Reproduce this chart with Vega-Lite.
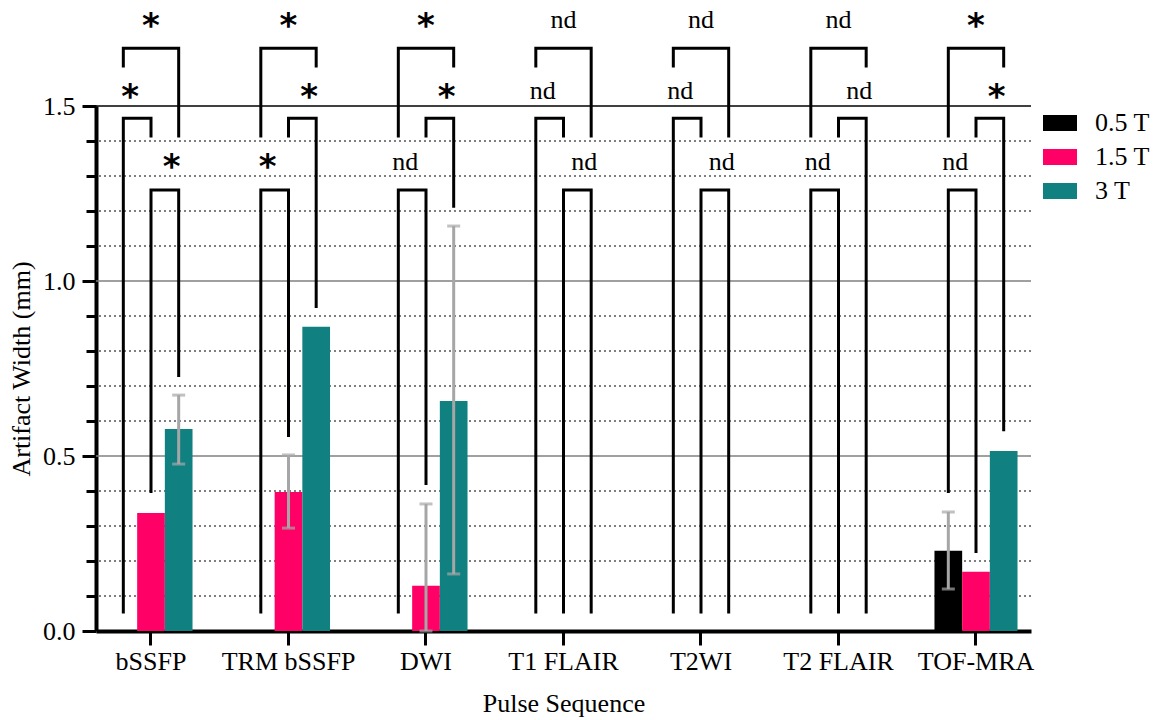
{
  "$schema": "https://vega.github.io/schema/vega-lite/v6.json",
  "autosize": {"type": "none"},
  "padding": {"left": 96, "top": 106, "right": 126, "bottom": 89},
  "width": 935,
  "height": 525,
  "config": {
    "view": {"stroke": null},
    "font": "Liberation Serif",
    "axis": {"grid": false}
  },
  "datasets": {
    "bars": [
      {"seq": "bSSFP", "group": "1.5 T", "value": 0.337},
      {"seq": "bSSFP", "group": "3 T", "value": 0.577},
      {"seq": "TRM bSSFP", "group": "1.5 T", "value": 0.397},
      {"seq": "TRM bSSFP", "group": "3 T", "value": 0.869},
      {"seq": "DWI", "group": "1.5 T", "value": 0.129},
      {"seq": "DWI", "group": "3 T", "value": 0.657},
      {"seq": "TOF-MRA", "group": "0.5 T", "value": 0.229},
      {"seq": "TOF-MRA", "group": "1.5 T", "value": 0.169},
      {"seq": "TOF-MRA", "group": "3 T", "value": 0.514}
    ],
    "errors": [
      {"seq": "bSSFP", "group": "3 T", "lo": 0.477, "hi": 0.674},
      {"seq": "TRM bSSFP", "group": "1.5 T", "lo": 0.294, "hi": 0.503},
      {"seq": "DWI", "group": "1.5 T", "lo": 0.0, "hi": 0.363},
      {"seq": "DWI", "group": "3 T", "lo": 0.163, "hi": 1.157},
      {"seq": "TOF-MRA", "group": "0.5 T", "lo": 0.12, "hi": 0.34}
    ],
    "grid": [
      {"v": 0.0, "major": true}, {"v": 0.1, "major": false}, {"v": 0.2, "major": false}, {"v": 0.3, "major": false},
      {"v": 0.4, "major": false}, {"v": 0.5, "major": true}, {"v": 0.6, "major": false}, {"v": 0.7, "major": false},
      {"v": 0.8, "major": false}, {"v": 0.9, "major": false}, {"v": 1.0, "major": true}, {"v": 1.1, "major": false},
      {"v": 1.2, "major": false}, {"v": 1.3, "major": false}, {"v": 1.4, "major": false}, {"v": 1.5, "major": true}
    ],
    "brackets": [
      {"id": "bSSFP A", "seq": "bSSFP", "group": "0.5 T", "y": 0.05, "k": 1},
      {"id": "bSSFP A", "seq": "bSSFP", "group": "0.5 T", "y": 1.465, "k": 2},
      {"id": "bSSFP A", "seq": "bSSFP", "group": "1.5 T", "y": 1.465, "k": 3},
      {"id": "bSSFP A", "seq": "bSSFP", "group": "1.5 T", "y": 1.41, "k": 4},
      {"id": "bSSFP B", "seq": "bSSFP", "group": "1.5 T", "y": 0.394, "k": 1},
      {"id": "bSSFP B", "seq": "bSSFP", "group": "1.5 T", "y": 1.26, "k": 2},
      {"id": "bSSFP B", "seq": "bSSFP", "group": "3 T", "y": 1.26, "k": 3},
      {"id": "bSSFP B", "seq": "bSSFP", "group": "3 T", "y": 0.726, "k": 4},
      {"id": "bSSFP C", "seq": "bSSFP", "group": "0.5 T", "y": 1.61, "k": 1},
      {"id": "bSSFP C", "seq": "bSSFP", "group": "0.5 T", "y": 1.665, "k": 2},
      {"id": "bSSFP C", "seq": "bSSFP", "group": "3 T", "y": 1.665, "k": 3},
      {"id": "bSSFP C", "seq": "bSSFP", "group": "3 T", "y": 1.41, "k": 4},
      {"id": "TRM A", "seq": "TRM bSSFP", "group": "0.5 T", "y": 0.05, "k": 1},
      {"id": "TRM A", "seq": "TRM bSSFP", "group": "0.5 T", "y": 1.26, "k": 2},
      {"id": "TRM A", "seq": "TRM bSSFP", "group": "1.5 T", "y": 1.26, "k": 3},
      {"id": "TRM A", "seq": "TRM bSSFP", "group": "1.5 T", "y": 0.554, "k": 4},
      {"id": "TRM B", "seq": "TRM bSSFP", "group": "1.5 T", "y": 1.41, "k": 1},
      {"id": "TRM B", "seq": "TRM bSSFP", "group": "1.5 T", "y": 1.465, "k": 2},
      {"id": "TRM B", "seq": "TRM bSSFP", "group": "3 T", "y": 1.465, "k": 3},
      {"id": "TRM B", "seq": "TRM bSSFP", "group": "3 T", "y": 0.923, "k": 4},
      {"id": "TRM C", "seq": "TRM bSSFP", "group": "0.5 T", "y": 1.41, "k": 1},
      {"id": "TRM C", "seq": "TRM bSSFP", "group": "0.5 T", "y": 1.665, "k": 2},
      {"id": "TRM C", "seq": "TRM bSSFP", "group": "3 T", "y": 1.665, "k": 3},
      {"id": "TRM C", "seq": "TRM bSSFP", "group": "3 T", "y": 1.61, "k": 4},
      {"id": "DWI A", "seq": "DWI", "group": "0.5 T", "y": 0.05, "k": 1},
      {"id": "DWI A", "seq": "DWI", "group": "0.5 T", "y": 1.26, "k": 2},
      {"id": "DWI A", "seq": "DWI", "group": "1.5 T", "y": 1.26, "k": 3},
      {"id": "DWI A", "seq": "DWI", "group": "1.5 T", "y": 0.417, "k": 4},
      {"id": "DWI B", "seq": "DWI", "group": "1.5 T", "y": 1.41, "k": 1},
      {"id": "DWI B", "seq": "DWI", "group": "1.5 T", "y": 1.465, "k": 2},
      {"id": "DWI B", "seq": "DWI", "group": "3 T", "y": 1.465, "k": 3},
      {"id": "DWI B", "seq": "DWI", "group": "3 T", "y": 1.209, "k": 4},
      {"id": "DWI C", "seq": "DWI", "group": "0.5 T", "y": 1.41, "k": 1},
      {"id": "DWI C", "seq": "DWI", "group": "0.5 T", "y": 1.665, "k": 2},
      {"id": "DWI C", "seq": "DWI", "group": "3 T", "y": 1.665, "k": 3},
      {"id": "DWI C", "seq": "DWI", "group": "3 T", "y": 1.61, "k": 4},
      {"id": "T1 A", "seq": "T1 FLAIR", "group": "0.5 T", "y": 0.05, "k": 1},
      {"id": "T1 A", "seq": "T1 FLAIR", "group": "0.5 T", "y": 1.465, "k": 2},
      {"id": "T1 A", "seq": "T1 FLAIR", "group": "1.5 T", "y": 1.465, "k": 3},
      {"id": "T1 A", "seq": "T1 FLAIR", "group": "1.5 T", "y": 1.41, "k": 4},
      {"id": "T1 B", "seq": "T1 FLAIR", "group": "1.5 T", "y": 0.05, "k": 1},
      {"id": "T1 B", "seq": "T1 FLAIR", "group": "1.5 T", "y": 1.26, "k": 2},
      {"id": "T1 B", "seq": "T1 FLAIR", "group": "3 T", "y": 1.26, "k": 3},
      {"id": "T1 B", "seq": "T1 FLAIR", "group": "3 T", "y": 0.05, "k": 4},
      {"id": "T1 C", "seq": "T1 FLAIR", "group": "0.5 T", "y": 1.61, "k": 1},
      {"id": "T1 C", "seq": "T1 FLAIR", "group": "0.5 T", "y": 1.665, "k": 2},
      {"id": "T1 C", "seq": "T1 FLAIR", "group": "3 T", "y": 1.665, "k": 3},
      {"id": "T1 C", "seq": "T1 FLAIR", "group": "3 T", "y": 1.41, "k": 4},
      {"id": "T2 A", "seq": "T2WI", "group": "0.5 T", "y": 0.05, "k": 1},
      {"id": "T2 A", "seq": "T2WI", "group": "0.5 T", "y": 1.465, "k": 2},
      {"id": "T2 A", "seq": "T2WI", "group": "1.5 T", "y": 1.465, "k": 3},
      {"id": "T2 A", "seq": "T2WI", "group": "1.5 T", "y": 1.41, "k": 4},
      {"id": "T2 B", "seq": "T2WI", "group": "1.5 T", "y": 0.05, "k": 1},
      {"id": "T2 B", "seq": "T2WI", "group": "1.5 T", "y": 1.26, "k": 2},
      {"id": "T2 B", "seq": "T2WI", "group": "3 T", "y": 1.26, "k": 3},
      {"id": "T2 B", "seq": "T2WI", "group": "3 T", "y": 0.05, "k": 4},
      {"id": "T2 C", "seq": "T2WI", "group": "0.5 T", "y": 1.61, "k": 1},
      {"id": "T2 C", "seq": "T2WI", "group": "0.5 T", "y": 1.665, "k": 2},
      {"id": "T2 C", "seq": "T2WI", "group": "3 T", "y": 1.665, "k": 3},
      {"id": "T2 C", "seq": "T2WI", "group": "3 T", "y": 1.41, "k": 4},
      {"id": "T2F A", "seq": "T2 FLAIR", "group": "0.5 T", "y": 0.05, "k": 1},
      {"id": "T2F A", "seq": "T2 FLAIR", "group": "0.5 T", "y": 1.26, "k": 2},
      {"id": "T2F A", "seq": "T2 FLAIR", "group": "1.5 T", "y": 1.26, "k": 3},
      {"id": "T2F A", "seq": "T2 FLAIR", "group": "1.5 T", "y": 0.05, "k": 4},
      {"id": "T2F B", "seq": "T2 FLAIR", "group": "1.5 T", "y": 1.41, "k": 1},
      {"id": "T2F B", "seq": "T2 FLAIR", "group": "1.5 T", "y": 1.465, "k": 2},
      {"id": "T2F B", "seq": "T2 FLAIR", "group": "3 T", "y": 1.465, "k": 3},
      {"id": "T2F B", "seq": "T2 FLAIR", "group": "3 T", "y": 0.05, "k": 4},
      {"id": "T2F C", "seq": "T2 FLAIR", "group": "0.5 T", "y": 1.41, "k": 1},
      {"id": "T2F C", "seq": "T2 FLAIR", "group": "0.5 T", "y": 1.665, "k": 2},
      {"id": "T2F C", "seq": "T2 FLAIR", "group": "3 T", "y": 1.665, "k": 3},
      {"id": "T2F C", "seq": "T2 FLAIR", "group": "3 T", "y": 1.61, "k": 4},
      {"id": "TOF A", "seq": "TOF-MRA", "group": "0.5 T", "y": 0.394, "k": 1},
      {"id": "TOF A", "seq": "TOF-MRA", "group": "0.5 T", "y": 1.26, "k": 2},
      {"id": "TOF A", "seq": "TOF-MRA", "group": "1.5 T", "y": 1.26, "k": 3},
      {"id": "TOF A", "seq": "TOF-MRA", "group": "1.5 T", "y": 0.223, "k": 4},
      {"id": "TOF B", "seq": "TOF-MRA", "group": "1.5 T", "y": 1.41, "k": 1},
      {"id": "TOF B", "seq": "TOF-MRA", "group": "1.5 T", "y": 1.465, "k": 2},
      {"id": "TOF B", "seq": "TOF-MRA", "group": "3 T", "y": 1.465, "k": 3},
      {"id": "TOF B", "seq": "TOF-MRA", "group": "3 T", "y": 0.571, "k": 4},
      {"id": "TOF C", "seq": "TOF-MRA", "group": "0.5 T", "y": 1.41, "k": 1},
      {"id": "TOF C", "seq": "TOF-MRA", "group": "0.5 T", "y": 1.665, "k": 2},
      {"id": "TOF C", "seq": "TOF-MRA", "group": "3 T", "y": 1.665, "k": 3},
      {"id": "TOF C", "seq": "TOF-MRA", "group": "3 T", "y": 1.61, "k": 4}
    ],
    "labels": [
      {"seq": "bSSFP", "pair": "A", "y": 1.54, "text": "*"},
      {"seq": "bSSFP", "pair": "B", "y": 1.34, "text": "*"},
      {"seq": "bSSFP", "pair": "C", "y": 1.743, "text": "*"},
      {"seq": "TRM bSSFP", "pair": "A", "y": 1.34, "text": "*"},
      {"seq": "TRM bSSFP", "pair": "B", "y": 1.54, "text": "*"},
      {"seq": "TRM bSSFP", "pair": "C", "y": 1.743, "text": "*"},
      {"seq": "DWI", "pair": "A", "y": 1.317, "text": "nd"},
      {"seq": "DWI", "pair": "B", "y": 1.54, "text": "*"},
      {"seq": "DWI", "pair": "C", "y": 1.743, "text": "*"},
      {"seq": "T1 FLAIR", "pair": "A", "y": 1.52, "text": "nd"},
      {"seq": "T1 FLAIR", "pair": "B", "y": 1.317, "text": "nd"},
      {"seq": "T1 FLAIR", "pair": "C", "y": 1.723, "text": "nd"},
      {"seq": "T2WI", "pair": "A", "y": 1.52, "text": "nd"},
      {"seq": "T2WI", "pair": "B", "y": 1.317, "text": "nd"},
      {"seq": "T2WI", "pair": "C", "y": 1.723, "text": "nd"},
      {"seq": "T2 FLAIR", "pair": "A", "y": 1.317, "text": "nd"},
      {"seq": "T2 FLAIR", "pair": "B", "y": 1.52, "text": "nd"},
      {"seq": "T2 FLAIR", "pair": "C", "y": 1.723, "text": "nd"},
      {"seq": "TOF-MRA", "pair": "A", "y": 1.317, "text": "nd"},
      {"seq": "TOF-MRA", "pair": "B", "y": 1.54, "text": "*"},
      {"seq": "TOF-MRA", "pair": "C", "y": 1.743, "text": "*"}
    ]
  },
  "layer": [
    {
      "data": {"name": "grid"},
      "transform": [{"filter": "!datum.major"}],
      "mark": {"type": "rule", "color": "#555555", "strokeWidth": 1.3, "strokeDash": [2, 3]},
      "encoding": {
        "y": {
          "field": "v", "type": "quantitative",
          "scale": {"domain": [0, 1.5], "nice": false, "zero": true},
          "axis": {
            "orient": "left", "values": [0.1, 0.2, 0.3, 0.4, 0.6, 0.7, 0.8, 0.9, 1.1, 1.2, 1.3, 1.4],
            "labels": false, "domain": false, "title": null, "grid": false,
            "ticks": true, "tickSize": 10, "tickWidth": 3, "tickColor": "black"
          }
        }
      }
    },
    {
      "data": {"name": "grid"},
      "transform": [{"filter": "datum.major && datum.v > 0"}],
      "mark": {"type": "rule", "strokeWidth": 1.3},
      "encoding": {
        "y": {"field": "v", "type": "quantitative", "axis": null},
        "color": {"condition": {"test": "datum.v > 1.4", "value": "#000000"}, "value": "#808080"}
      }
    },
    {
      "data": {"name": "bars"},
      "mark": {"type": "bar"},
      "encoding": {
        "x": {
          "field": "seq", "type": "nominal",
          "scale": {"domain": ["bSSFP", "TRM bSSFP", "DWI", "T1 FLAIR", "T2WI", "T2 FLAIR", "TOF-MRA"], "paddingInner": 0.396, "paddingOuter": 0.098},
          "axis": {
            "title": "Pulse Sequence", "labelAngle": 0, "labelFontSize": 26, "titleFontSize": 26,
            "labelFont": "Liberation Serif", "titleFont": "Liberation Serif", "titleFontWeight": "normal",
            "labelColor": "black", "titleColor": "black", "tickSize": 14, "tickWidth": 3, "tickColor": "black",
            "domainWidth": 4, "domainColor": "black", "labelPadding": 3, "titlePadding": 16
          }
        },
        "xOffset": {"field": "group", "type": "nominal", "scale": {"type": "band", "domain": ["0.5 T", "1.5 T", "3 T"], "paddingInner": 0, "paddingOuter": 0}},
        "y": {
          "field": "value", "type": "quantitative",
          "axis": {
            "orient": "left",
            "title": "Artifact Width (mm)",
            "values": [0, 0.5, 1.0, 1.5],
            "format": ".1f",
            "labelOverlap": false,
            "labelFontSize": 26, "titleFontSize": 26, "labelFont": "Liberation Serif", "titleFont": "Liberation Serif",
            "titleFontWeight": "normal", "labelColor": "black", "titleColor": "black",
            "domainWidth": 4, "domainColor": "black", "tickColor": "black", "tickWidth": 3, "tickSize": 14,
            "labelPadding": 7, "titlePadding": 8,
            "grid": false
          }
        },
        "color": {
          "field": "group", "type": "nominal",
          "scale": {"domain": ["0.5 T", "1.5 T", "3 T"], "range": ["#000000", "#ff0066", "#118080"]},
          "legend": {
            "title": null, "orient": "right", "offset": 12, "labelFontSize": 26, "labelFont": "Liberation Serif",
            "labelColor": "black", "symbolType": "M-1,-0.47H1V0.47H-1Z", "symbolSize": 1156,
            "symbolStrokeWidth": 0, "labelOffset": 18, "rowPadding": 4
          }
        }
      }
    },
    {
      "data": {"name": "errors"},
      "mark": {"type": "rule", "color": "#a6a6a6", "strokeWidth": 3},
      "encoding": {
        "x": {"field": "seq", "type": "nominal"},
        "xOffset": {"field": "group", "type": "nominal", "scale": {"type": "band", "domain": ["0.5 T", "1.5 T", "3 T"], "paddingInner": 0, "paddingOuter": 0}},
        "y": {"field": "lo", "type": "quantitative", "axis": null},
        "y2": {"field": "hi"}
      }
    },
    {
      "data": {"name": "errors"},
      "mark": {"type": "tick", "color": "#a6a6a6", "thickness": 3, "size": 13, "orient": "horizontal"},
      "encoding": {
        "x": {"field": "seq", "type": "nominal"},
        "xOffset": {"field": "group", "type": "nominal", "scale": {"type": "band", "domain": ["0.5 T", "1.5 T", "3 T"], "paddingInner": 0, "paddingOuter": 0}},
        "y": {"field": "lo", "type": "quantitative", "axis": null}
      }
    },
    {
      "data": {"name": "errors"},
      "mark": {"type": "tick", "color": "#a6a6a6", "thickness": 3, "size": 13, "orient": "horizontal"},
      "encoding": {
        "x": {"field": "seq", "type": "nominal"},
        "xOffset": {"field": "group", "type": "nominal", "scale": {"type": "band", "domain": ["0.5 T", "1.5 T", "3 T"], "paddingInner": 0, "paddingOuter": 0}},
        "y": {"field": "hi", "type": "quantitative", "axis": null}
      }
    },
    {
      "data": {"name": "brackets"},
      "mark": {"type": "line", "color": "#000000", "strokeWidth": 3, "strokeJoin": "miter", "strokeCap": "butt"},
      "encoding": {
        "x": {"field": "seq", "type": "nominal"},
        "xOffset": {"field": "group", "type": "nominal", "scale": {"type": "band", "domain": ["0.5 T", "1.5 T", "3 T"], "paddingInner": 0, "paddingOuter": 0}},
        "y": {"field": "y", "type": "quantitative", "axis": null},
        "detail": {"field": "id"},
        "order": {"field": "k", "type": "quantitative"}
      }
    },
    {
      "data": {"name": "labels"},
      "transform": [{"filter": "datum.text === 'nd'"}],
      "mark": {"type": "text", "font": "Liberation Serif", "fontSize": 26, "baseline": "alphabetic", "align": "center", "color": "black"},
      "encoding": {
        "x": {"field": "seq", "type": "nominal"},
        "xOffset": {"field": "pair", "type": "nominal", "scale": {"type": "point", "domain": ["A", "C", "B"], "padding": 2}},
        "y": {"field": "y", "type": "quantitative", "axis": null},
        "text": {"field": "text"}
      }
    },
    {
      "data": {"name": "labels"},
      "transform": [{"filter": "datum.text === '*'"}],
      "mark": {"type": "text", "font": "DejaVu Sans", "fontWeight": "bold", "fontSize": 34, "baseline": "middle", "align": "center", "color": "black", "dy": 6},
      "encoding": {
        "x": {"field": "seq", "type": "nominal"},
        "xOffset": {"field": "pair", "type": "nominal", "scale": {"type": "point", "domain": ["A", "C", "B"], "padding": 2}},
        "y": {"field": "y", "type": "quantitative", "axis": null},
        "text": {"field": "text"}
      }
    }
  ],
  "resolve": {"scale": {"xOffset": "independent"}, "axis": {"y": "independent"}}
}
